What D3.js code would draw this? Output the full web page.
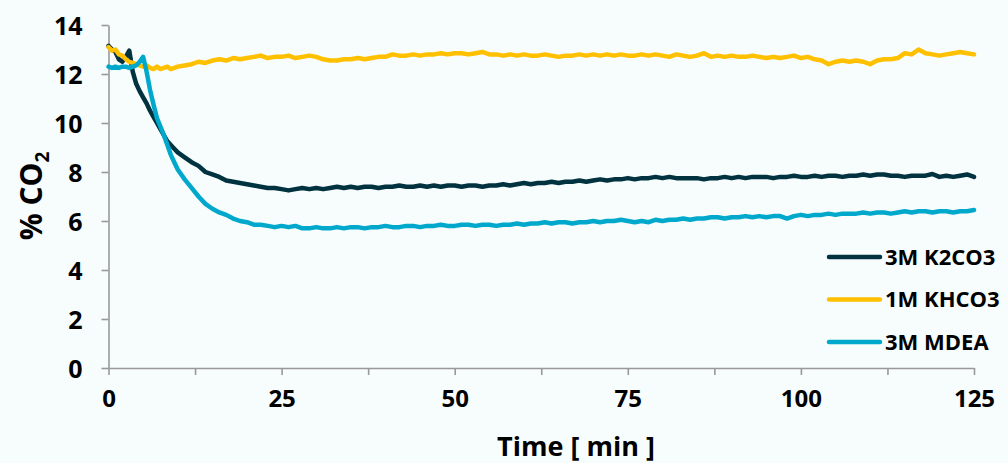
<!DOCTYPE html>
<html>
<head>
<meta charset="utf-8">
<script src="https://cdn.jsdelivr.net/npm/d3@7"></script>
<style>
  html, body { margin: 0; padding: 0; background: #f7fcfd; }
  text { font-family: "Open Sans", "Liberation Sans", sans-serif; font-weight: bold; fill: #000; }
</style>
</head>
<body>
<div id="chart-container"></div>
<script>
/**************************************************
 * Data
 **************************************************/

// time in minutes, finer steps during the first 10 min
const time = [
  0, 0.5, 1, 1.5, 2, 2.5, 3, 3.5, 4, 4.5,
  5, 5.5, 6, 6.5, 7, 7.5, 8, 8.5, 9, 9.5,
  10, 11, 12, 13, 14, 15, 16, 17, 18, 19,
  20, 21, 22, 23, 24, 25, 26, 27, 28, 29,
  30, 31, 32, 33, 34, 35, 36, 37, 38, 39,
  40, 41, 42, 43, 44, 45, 46, 47, 48, 49,
  50, 51, 52, 53, 54, 55, 56, 57, 58, 59,
  60, 61, 62, 63, 64, 65, 66, 67, 68, 69,
  70, 71, 72, 73, 74, 75, 76, 77, 78, 79,
  80, 81, 82, 83, 84, 85, 86, 87, 88, 89,
  90, 91, 92, 93, 94, 95, 96, 97, 98, 99,
  100, 101, 102, 103, 104, 105, 106, 107, 108, 109,
  110, 111, 112, 113, 114, 115, 116, 117, 118, 119,
  120, 121, 122, 123, 124, 125
];

// % CO2, 3M K2CO3
const k2co3 = [
  13.15, 13.0, 12.9, 12.6, 12.5, 12.7, 12.95, 12.1, 11.6, 11.3,
  11.05, 10.8, 10.5, 10.25, 10.0, 9.75, 9.5, 9.25, 9.1, 8.95,
  8.8, 8.6, 8.4, 8.25, 8.0, 7.9, 7.8, 7.65, 7.6, 7.55,
  7.5, 7.45, 7.4, 7.35, 7.35, 7.3, 7.25, 7.3, 7.35, 7.3,
  7.35, 7.3, 7.35, 7.4, 7.35, 7.4, 7.35, 7.4, 7.4, 7.35,
  7.4, 7.4, 7.45, 7.4, 7.4, 7.45, 7.4, 7.45, 7.4, 7.45,
  7.45, 7.4, 7.45, 7.45, 7.4, 7.45, 7.45, 7.5, 7.45, 7.5,
  7.55, 7.5, 7.55, 7.55, 7.6, 7.55, 7.6, 7.6, 7.65, 7.6,
  7.65, 7.7, 7.65, 7.7, 7.7, 7.75, 7.7, 7.75, 7.75, 7.8,
  7.75, 7.8, 7.75, 7.75, 7.75, 7.75, 7.7, 7.75, 7.75, 7.8,
  7.75, 7.8, 7.75, 7.8, 7.8, 7.8, 7.75, 7.8, 7.8, 7.85,
  7.8, 7.8, 7.85, 7.8, 7.85, 7.85, 7.8, 7.85, 7.85, 7.9,
  7.85, 7.9, 7.9, 7.85, 7.85, 7.8, 7.85, 7.85, 7.85, 7.92,
  7.8, 7.85, 7.8, 7.85, 7.9, 7.8
];

// % CO2, 1M KHCO3
const khco3 = [
  13.1, 12.95, 13.0, 12.8, 12.75, 12.6, 12.5, 12.45, 12.4, 12.35,
  12.3, 12.35, 12.25, 12.2, 12.3, 12.2, 12.25, 12.3, 12.2, 12.25,
  12.3, 12.35, 12.4, 12.5, 12.45, 12.55, 12.6, 12.55, 12.65, 12.6,
  12.65, 12.7, 12.75, 12.65, 12.7, 12.7, 12.75, 12.65, 12.7, 12.75,
  12.7, 12.6, 12.55, 12.55, 12.6, 12.6, 12.65, 12.6, 12.65, 12.7,
  12.7, 12.8, 12.75, 12.75, 12.8, 12.75, 12.8, 12.8, 12.85, 12.8,
  12.85, 12.85, 12.8, 12.85, 12.9, 12.8, 12.8, 12.75, 12.8, 12.75,
  12.8, 12.75, 12.75, 12.8, 12.75, 12.7, 12.75, 12.75, 12.8, 12.75,
  12.8, 12.75, 12.8, 12.75, 12.8, 12.75, 12.75, 12.8, 12.75, 12.8,
  12.75, 12.7, 12.8, 12.75, 12.7, 12.75, 12.85, 12.7, 12.75, 12.7,
  12.75, 12.7, 12.7, 12.75, 12.7, 12.65, 12.7, 12.65, 12.7, 12.75,
  12.65, 12.7, 12.6, 12.55, 12.4, 12.5, 12.55, 12.5, 12.55, 12.5,
  12.4, 12.55, 12.6, 12.6, 12.65, 12.85, 12.8, 13.0, 12.85, 12.8,
  12.75, 12.8, 12.85, 12.9, 12.85, 12.8
];

// % CO2, 3M MDEA
const mdea = [
  12.3, 12.25, 12.3, 12.25, 12.3, 12.3, 12.25, 12.3, 12.35, 12.5,
  12.7, 12.1, 11.35, 10.75, 10.2, 9.85, 9.5, 9.1, 8.7, 8.4,
  8.1, 7.7, 7.35, 7.0, 6.7, 6.5, 6.35, 6.25, 6.1, 6.0,
  5.95, 5.85, 5.85, 5.8, 5.75, 5.8, 5.75, 5.8, 5.7, 5.7,
  5.75, 5.7, 5.7, 5.75, 5.7, 5.75, 5.75, 5.7, 5.75, 5.75,
  5.8, 5.75, 5.75, 5.8, 5.8, 5.75, 5.8, 5.8, 5.85, 5.8,
  5.8, 5.85, 5.85, 5.8, 5.85, 5.85, 5.8, 5.85, 5.85, 5.9,
  5.85, 5.9, 5.9, 5.95, 5.9, 5.95, 5.95, 5.9, 5.95, 5.95,
  6.0, 5.95, 6.0, 6.0, 6.05, 6.0, 5.95, 6.0, 5.95, 6.05,
  6.0, 6.05, 6.05, 6.1, 6.05, 6.1, 6.1, 6.15, 6.15, 6.1,
  6.15, 6.15, 6.2, 6.15, 6.2, 6.15, 6.2, 6.2, 6.1, 6.2,
  6.25, 6.2, 6.25, 6.25, 6.3, 6.25, 6.3, 6.3, 6.3, 6.35,
  6.3, 6.35, 6.35, 6.3, 6.35, 6.4, 6.35, 6.4, 6.4, 6.35,
  6.4, 6.4, 6.35, 6.4, 6.4, 6.45
];

const seriesNames = ["3M K2CO3", "1M KHCO3", "3M MDEA"];
const seriesColors = ["#003240", "#ffc000", "#00a8cc"];

// tick marks every 12.5 min, labels every 25
const xTickValues = [0, 12.5, 25, 37.5, 50, 62.5, 75, 87.5, 100, 112.5, 125];
const xLabelValues = [0, 25, 50, 75, 100, 125];
const yTickValues = [0, 2, 4, 6, 8, 10, 12, 14];

/**************************************************
 * Rendering
 **************************************************/

function renderChart() {
  const width = 1008, height = 463;
  const svg = d3.select("#chart-container")
    .append("svg")
    .attr("width", width)
    .attr("height", height);

  svg.append("rect")
    .attr("width", width)
    .attr("height", height)
    .attr("fill", "#f7fcfd");

  const xScale = d3.scaleLinear().domain([0, 125]).range([108.5, 974]);
  const yScale = d3.scaleLinear().domain([0, 14]).range([368, 25]);

  const axisColor = "#999";

  // y axis
  const yAxis = svg.append("g")
    .attr("transform", `translate(${xScale(0)},0)`)
    .call(d3.axisLeft(yScale).tickValues(yTickValues).tickSize(7).tickPadding(19).tickSizeOuter(0));
  yAxis.select(".domain").attr("stroke", axisColor).attr("stroke-width", 1.6);
  yAxis.selectAll(".tick line").attr("stroke", axisColor).attr("stroke-width", 1.6);
  yAxis.selectAll(".tick text")
    .attr("font-size", "25px")
    .attr("font-family", null)
    .attr("dy", "0.36em");

  // x axis
  const xAxis = svg.append("g")
    .attr("transform", `translate(0,${yScale(0)})`)
    .call(d3.axisBottom(xScale)
      .tickValues(xTickValues)
      .tickSize(7)
      .tickPadding(15)
      .tickSizeOuter(0)
      .tickFormat(d => xLabelValues.includes(d) ? d : ""));
  xAxis.select(".domain").attr("stroke", axisColor).attr("stroke-width", 1.6);
  xAxis.selectAll(".tick line").attr("stroke", axisColor).attr("stroke-width", 1.6);
  xAxis.selectAll(".tick text")
    .attr("font-size", "24px")
    .attr("font-family", null);

  // axis titles
  svg.append("text")
    .attr("x", 576)
    .attr("y", 456)
    .attr("text-anchor", "middle")
    .attr("font-size", "27px")
    .text("Time [ min ]");

  const yTitle = svg.append("text")
    .attr("transform", "translate(42,196) rotate(-90)")
    .attr("text-anchor", "middle")
    .attr("font-size", "30px");
  yTitle.append("tspan").text("% CO");
  yTitle.append("tspan")
    .attr("font-size", "19px")
    .attr("dy", "7")
    .text("2");

  // lines
  const series = [k2co3, khco3, mdea];
  const line = d3.line()
    .x((d, i) => xScale(time[i]))
    .y(d => yScale(d));

  series.forEach((values, s) => {
    svg.append("path")
      .datum(values)
      .attr("fill", "none")
      .attr("stroke", seriesColors[s])
      .attr("stroke-width", 4.5)
      .attr("stroke-linejoin", "round")
      .attr("stroke-linecap", "round")
      .attr("d", line);
  });

  // legend
  const legend = svg.append("g")
    .attr("transform", "translate(829, 257)");

  seriesNames.forEach((name, i) => {
    const row = legend.append("g")
      .attr("transform", `translate(0, ${i * 42.5})`);
    row.append("line")
      .attr("x1", 0)
      .attr("x2", 51)
      .attr("stroke", seriesColors[i])
      .attr("stroke-width", 4.5)
      .attr("stroke-linecap", "round");
    row.append("text")
      .attr("x", 56)
      .attr("y", 0)
      .attr("dy", "0.36em")
      .attr("font-size", "22px")
      .text(name);
  });
}

renderChart();
</script>
</body>
</html>
